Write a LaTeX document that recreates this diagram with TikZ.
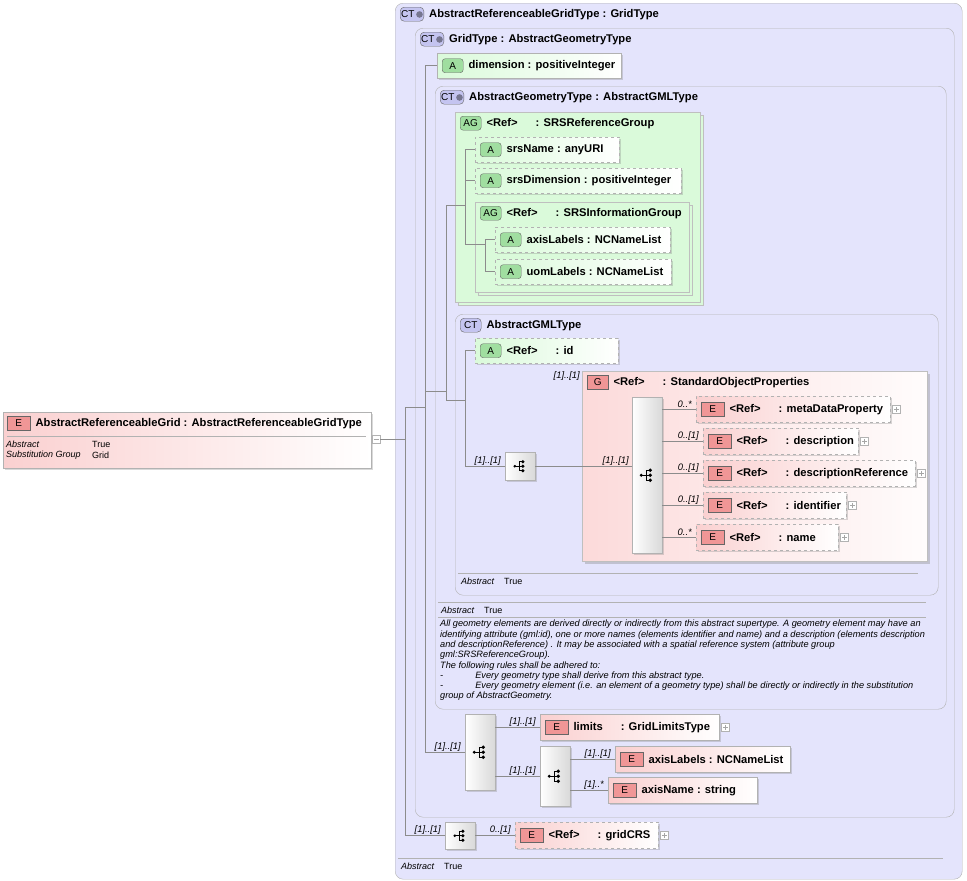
\documentclass[tikz,border=0pt]{standalone}
\usepackage{fontspec}
\setmainfont{Liberation Sans}
\usetikzlibrary{positioning,shapes.misc,shadows}
\definecolor{ctfill}{RGB}{228,228,252}
\definecolor{agfill}{RGB}{218,250,218}
\definecolor{pinkl}{RGB}{250,208,208}
\definecolor{pinkg}{RGB}{252,218,218}
\definecolor{ebadge}{RGB}{240,150,150}
\definecolor{abadge}{RGB}{160,222,160}
\definecolor{cbadge}{RGB}{196,196,240}
\definecolor{linec}{RGB}{140,140,140}

\tikzset{
  every node/.style={font=\fontsize{11.2}{13}\selectfont\bfseries},
  ctbox/.style={draw=gray!60,rounded corners=8pt,fill=ctfill,inner sep=0pt},
  agbox/.style={draw=gray!50,fill=agfill,inner sep=0pt,
    copy shadow={shadow xshift=3pt,shadow yshift=-3pt,fill=agfill,draw=gray!50}},
  gbox/.style={draw=gray!50,left color=pinkg,right color=white!92!pinkg,inner sep=0pt,
    drop shadow={shadow xshift=3pt,shadow yshift=-3pt,opacity=.35}},
  elem/.style={draw=gray!60,left color=pinkl,right color=white,minimum height=26pt,inner sep=0pt,
    drop shadow={shadow xshift=2pt,shadow yshift=-2pt,opacity=.3}},
  opt/.style={dashed},
  attr/.style={draw=gray!60,left color=agfill,right color=white,minimum height=25pt,inner sep=0pt,
    drop shadow={shadow xshift=2pt,shadow yshift=-2pt,opacity=.3}},
  seqbox/.style={draw=gray!60,left color=white,right color=gray!30,inner sep=0pt,minimum width=30pt,
    drop shadow={shadow xshift=2pt,shadow yshift=-2pt,opacity=.3}},
  badge/.style={draw=gray!80!black,minimum height=14pt,minimum width=21pt,inner sep=1pt,
    font=\fontsize{10}{11}\selectfont},
  eb/.style={badge,fill=ebadge,minimum width=23pt},
  ab/.style={badge,fill=abadge,rounded corners=3pt},
  agb/.style={badge,fill=abadge,rounded corners=3pt},
  gb/.style={badge,fill=ebadge},
  ctb/.style={badge,fill=cbadge,rounded corners=4pt},
  plusb/.style={draw=gray!60,fill=white,minimum size=8pt,inner sep=0pt,
    path picture={\draw[gray!70] ([xshift=-2.5pt]path picture bounding box.center) -- ([xshift=2.5pt]path picture bounding box.center)
      ([yshift=-2.5pt]path picture bounding box.center) -- ([yshift=2.5pt]path picture bounding box.center);}},
  mult/.style={font=\fontsize{9.4}{10}\selectfont\itshape,inner sep=1pt,anchor=south east},
  note/.style={font=\fontsize{9}{10}\selectfont,inner sep=0pt,anchor=west},
  inote/.style={note,font=\fontsize{9}{10}\selectfont\itshape},
  conn/.style={draw=linec,line width=.5pt},
  pics/seqicon/.style={code={
    \draw[line width=.9pt] (-6,0) -- (-1,0) (-1,-5) -- (-1,5) (-1,-5) -- (3,-5) (-1,5) -- (3,5) (-1,0) -- (3,0);
    \fill (-6,0) circle (1.6pt) (3,-5) circle (1.9pt) (3,0) circle (1.9pt) (3,5) circle (1.9pt);}}
}

% box with badge and text
\newcommand\xbox[8]{%
  \node[#2,minimum width=#6pt,anchor=north west] (#1) at (#4,#5) {};
  \node[#3,right=5pt of #1.west] (#1b) {#7};
  \node[right=5pt of #1b,inner sep=0pt] (#1t) {#8};}
% header of a container
\newcommand\hdr[4]{%
  \node[#2,anchor=north west] (#1b) at ([xshift=5pt,yshift=-4pt]#1.north west) {#3};
  \node[right=5pt of #1b,inner sep=0pt] (#1t) {#4};}
\newcommand\ctbadge{CT\,\tikz[baseline=-.6ex]\draw[fill=cbadge!60!black,draw=none] (0,0) circle (3.3pt);}
\newcommand\refto[1]{<Ref>\hspace{18pt}: #1}

\begin{document}
\begin{tikzpicture}[x=1pt,y=-1pt]
\useasboundingbox (0,0) rectangle (967,881);

% containers
\node[ctbox,minimum width=567pt,minimum height=876pt,anchor=north west] (argt) at (395,3) {};
\hdr{argt}{ctb}{\ctbadge}{AbstractReferenceableGridType : GridType}
\node[ctbox,minimum width=539pt,minimum height=789pt,anchor=north west] (gt) at (415,28) {};
\hdr{gt}{ctb}{\ctbadge}{GridType : AbstractGeometryType}
\node[ctbox,minimum width=511pt,minimum height=623pt,anchor=north west] (agt) at (435,86) {};
\hdr{agt}{ctb}{\ctbadge}{AbstractGeometryType : AbstractGMLType}
\node[agbox,minimum width=245pt,minimum height=190pt,anchor=north west] (srg) at (455,112) {};
\hdr{srg}{agb}{AG}{\refto{SRSReferenceGroup}}
\node[agbox,minimum width=214pt,minimum height=90pt,anchor=north west] (sig) at (475,202) {};
\hdr{sig}{agb}{AG}{\refto{SRSInformationGroup}}
\node[ctbox,minimum width=483pt,minimum height=281pt,anchor=north west] (gml) at (455,314) {};
\hdr{gml}{ctb}{CT}{AbstractGMLType}
\node[gbox,minimum width=345pt,minimum height=190pt,anchor=north west] (sop) at (582,371) {};
\hdr{sop}{gb}{G}{\refto{StandardObjectProperties}}

% left element
\node[elem,minimum width=368pt,minimum height=56pt,anchor=north west] (arg) at (3,412) {};
\node[eb,anchor=north west] (argb) at (7,416) {E};
\node[right=5pt of argb,inner sep=0pt] {AbstractReferenceableGrid : AbstractReferenceableGridType};
\draw[gray!60] (7,436) -- (366,436);
\node[inote] at (6,444) {Abstract};
\node[note] at (92,444) {True};
\node[inote] at (6,455) {Substitution Group};
\node[note] at (92,455) {Grid};
\node[draw=gray!60,fill=white,minimum size=8pt,inner sep=0pt,
  path picture={\draw[gray!70] ([xshift=-2.5pt]path picture bounding box.center) -- ([xshift=2.5pt]path picture bounding box.center);}]
  (minus) at (376,439) {};

% attributes
\xbox{dim}{attr}{ab}{437}{53}{184}{A}{dimension : positiveInteger}
\xbox{srsn}{attr,opt}{ab}{475}{137}{144}{A}{srsName : anyURI}
\xbox{srsd}{attr,opt}{ab}{475}{168}{206}{A}{srsDimension : positiveInteger}
\xbox{axl}{attr,opt}{ab}{495}{227}{175}{A}{axisLabels : NCNameList}
\xbox{uom}{attr,opt}{ab}{495}{259}{176}{A}{uomLabels : NCNameList}
\xbox{id}{attr,opt}{ab}{475}{338}{143}{A}{\refto{id}}

% standard object properties
\node[seqbox,minimum height=156pt,anchor=north west] (sqs) at (632,397) {};
\pic at (sqs.center) {seqicon};
\xbox{mdp}{elem,opt}{eb}{696}{396}{194}{E}{\refto{metaDataProperty}}
\xbox{desc}{elem,opt}{eb}{703}{428}{155}{E}{\refto{description}}
\xbox{dref}{elem,opt}{eb}{703}{460}{212}{E}{\refto{descriptionReference}}
\xbox{idf}{elem,opt}{eb}{703}{492}{143}{E}{\refto{identifier}}
\xbox{nam}{elem,opt}{eb}{696}{524}{142}{E}{\refto{name}}
\node[seqbox,minimum height=28pt,anchor=north west] (sqg) at (505,452) {};
\pic[scale=.9] at (sqg.center) {seqicon};

% grid content
\node[seqbox,minimum height=76pt,anchor=north west] (sq1) at (465,714) {};
\pic at (sq1.center) {seqicon};
\node[seqbox,minimum height=60pt,anchor=north west] (sq2) at (540,746) {};
\pic at (sq2.center) {seqicon};
\xbox{lim}{elem}{eb}{540}{714}{179}{E}{limits\hspace{18pt}: GridLimitsType}
\xbox{axl2}{elem}{eb}{615}{746}{175}{E}{axisLabels : NCNameList}
\xbox{axn}{elem}{eb}{608}{777}{149}{E}{axisName : string}
\node[seqbox,minimum height=27pt,anchor=north west] (sq3) at (445,822) {};
\pic[scale=.9] at (sq3.center) {seqicon};
\xbox{gcrs}{elem,opt}{eb}{515}{822}{143}{E}{\refto{gridCRS}}

% plus boxes
\foreach \e in {mdp,desc,dref,idf,nam,lim,gcrs}
  \node[plusb,right=2pt of \e.east] {};

% connectors
\coordinate (j0) at (405,407);
\coordinate (j1) at (425,407);
\coordinate (j2) at (446,391);
\coordinate (j3) at (465,205);
\coordinate (j4) at (465,400);
\coordinate (j5) at (485,244);
\draw[conn] (minus.east) -- (j0 |- minus.east)
  (j0) -- (j0 |- sq3.west) -- (sq3.west)
  (j0) -- (j1)
  (j1 |- dim.west) -- (dim.west)
  (j1 |- dim.west) -- (j1 |- sq1.west) -- (sq1.west)
  (j1 |- j2) -- (j2)
  (j2 |- j3) -- (j2 |- j4)
  (j2 |- j3) -- (j3) (j2 |- j4) -- (j4)
  (j3 |- srsn.west) -- (srsn.west) (j3 |- srsd.west) -- (srsd.west)
  (j3 |- srsn.west) -- (j3 |- j5) -- (j5)
  (j5 |- axl.west) -- (axl.west) (j5 |- axl.west) -- (j5 |- uom.west) -- (uom.west)
  (j4 |- id.west) -- (id.west) (j4 |- id.west) -- (j4 |- sqg.west) -- (sqg.west)
  (sqg.east) -- (sqs.west |- sqg.east)
  (sq1.east |- lim.west) -- (lim.west)
  (sq1.east |- sq2.west) -- (sq2.west)
  (sq2.east |- axl2.west) -- (axl2.west)
  (sq2.east |- axn.west) -- (axn.west)
  (sq3.east) -- (sq3.east -| gcrs.west);
\foreach \e in {mdp,desc,dref,idf,nam}
  \draw[conn] (sqs.east |- \e.west) -- (\e.west);

% multiplicities
\node[mult] at ([xshift=-3pt]sqg.west) {[1]..[1]};
\node[mult,anchor=east] at ([xshift=-1pt,yshift=-5pt]sop.north west) {[1]..[1]};
\node[mult] at ([xshift=-2pt]sqs.west |- sqg.east) {[1]..[1]};
\node[mult] at ([xshift=-3pt]mdp.west) {0..*};
\node[mult] at ([xshift=-3pt]desc.west) {0..[1]};
\node[mult] at ([xshift=-3pt]dref.west) {0..[1]};
\node[mult] at ([xshift=-3pt]idf.west) {0..[1]};
\node[mult] at ([xshift=-3pt]nam.west) {0..*};
\node[mult] at ([xshift=-3pt]sq1.west) {[1]..[1]};
\node[mult] at ([xshift=-3pt]lim.west) {[1]..[1]};
\node[mult] at ([xshift=-3pt]sq2.west) {[1]..[1]};
\node[mult] at ([xshift=-3pt]axl2.west) {[1]..[1]};
\node[mult] at ([xshift=-3pt]axn.west) {[1]..*};
\node[mult] at ([xshift=-3pt]sq3.west) {[1]..[1]};
\node[mult] at ([xshift=-3pt]sq3.east -| gcrs.west) {0..[1]};

% footers
\draw[gray!60] (458,573) -- (918,573);
\node[inote] at (461,581) {Abstract};
\node[note] at (504,581) {True};
\draw[gray!60] (438,602) -- (926,602) (438,617) -- (926,617);
\node[inote] at (441,610) {Abstract};
\node[note] at (484,610) {True};
\node[note,anchor=north west,align=left,font=\fontsize{9.2}{10.3}\selectfont\itshape] at (440,620)
 {All geometry elements are derived directly or indirectly from this abstract supertype. A geometry element may have an\\
  identifying attribute (gml:id), one or more names (elements identifier and name) and a description (elements description\\
  and descriptionReference) . It may be associated with a spatial reference system (attribute group\\
  gml:SRSReferenceGroup).\\
  The following rules shall be adhered to:\\
  -\hspace{32pt}Every geometry type shall derive from this abstract type.\\
  -\hspace{32pt}Every geometry element (i.e. an element of a geometry type) shall be directly or indirectly in the substitution\\
  group of AbstractGeometry.};
\draw[gray!60] (398,858) -- (943,858);
\node[inote] at (401,866) {Abstract};
\node[note] at (444,866) {True};
\end{tikzpicture}
\end{document}
